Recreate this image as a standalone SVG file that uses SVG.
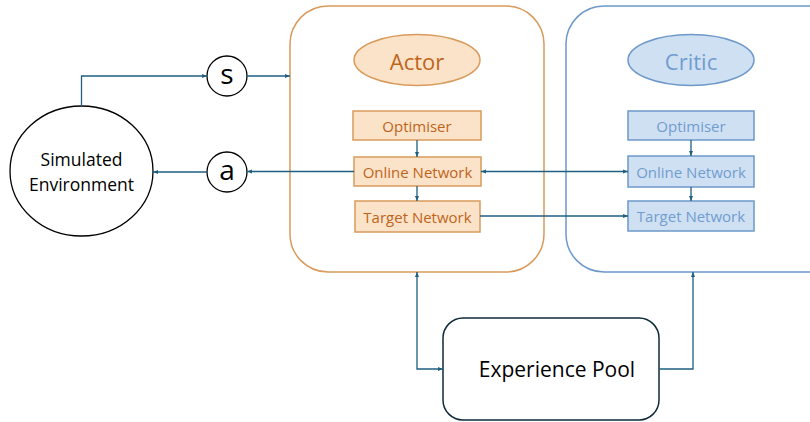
<svg xmlns="http://www.w3.org/2000/svg" width="810" height="422" viewBox="0 0 810 422">
<defs>
<marker id="arr" viewBox="0 0 10 10" refX="10" refY="5" markerWidth="5" markerHeight="5" orient="auto-start-reverse" markerUnits="userSpaceOnUse"><path d="M0,1 L10,5 L0,9 z" fill="#1F5F80"/></marker>
<style>
text{font-family:"Open Sans","Noto Sans",sans-serif;text-anchor:middle;dominant-baseline:central}
.a-box{fill:#FBE3C9;stroke:#D99A5B;stroke-width:1.5}
.a-txt{fill:#C0631A}
.c-box{fill:#CFE0F2;stroke:#6C99C9;stroke-width:1.5}
.c-txt{fill:#6F9DD0}
.k{fill:#000}
.line{fill:none;stroke:#1F5F80;stroke-width:1.3}
.sm{font-size:15px}
</style>
</defs>
<rect width="810" height="422" fill="#fff"/>
<g id="actor">
<rect x="290" y="6" width="254" height="266" rx="38" fill="none" stroke="#D99A5B" stroke-width="1.5"/>
<ellipse class="a-box" cx="417" cy="60" rx="63" ry="25.5"/>
<text class="a-txt" x="417" y="61" font-size="22">Actor</text>
</g>
<g id="actor-optimiser"><rect class="a-box" x="353" y="111" width="128" height="29"/><text class="a-txt sm" x="417" y="125.5">Optimiser</text></g>
<g id="actor-online"><rect class="a-box" x="354" y="157" width="127" height="29"/><text class="a-txt sm" x="417.5" y="171.5">Online Network</text></g>
<g id="actor-target"><rect class="a-box" x="355" y="201" width="125" height="31"/><text class="a-txt sm" x="417.5" y="216.5">Target Network</text></g>
<g id="critic">
<rect x="566" y="6" width="290" height="266" rx="38" fill="none" stroke="#6C99C9" stroke-width="1.5"/>
<ellipse class="c-box" cx="691" cy="60" rx="63" ry="25.5"/>
<text class="c-txt" x="691" y="61" font-size="22">Critic</text>
</g>
<g id="critic-optimiser"><rect class="c-box" x="628" y="111" width="126" height="29"/><text class="c-txt sm" x="691" y="125.5">Optimiser</text></g>
<g id="critic-online"><rect class="c-box" x="628" y="156" width="126" height="31"/><text class="c-txt sm" x="691" y="171.5">Online Network</text></g>
<g id="critic-target"><rect class="c-box" x="628" y="201" width="126" height="30"/><text class="c-txt sm" x="691" y="216">Target Network</text></g>
<g id="environment"><ellipse cx="81.5" cy="171" rx="71.5" ry="65" fill="#fff" stroke="#000" stroke-width="1.3"/><text class="k" x="81.5" y="159" font-size="17.5">Simulated</text><text class="k" x="81.5" y="184" font-size="17.5">Environment</text></g>
<g id="s"><circle cx="227" cy="76" r="20" fill="#fff" stroke="#000" stroke-width="1.3"/><text class="k" x="227" y="73" font-size="28">s</text></g>
<g id="a"><circle cx="227" cy="172" r="20" fill="#fff" stroke="#000" stroke-width="1.3"/><text class="k" x="227" y="169" font-size="28">a</text></g>
<g id="pool"><rect x="443" y="318" width="216" height="102" rx="20" fill="#fff" stroke="#0E2A3A" stroke-width="1.5"/><text class="k" x="557" y="369" font-size="21">Experience Pool</text></g>
<g id="connectors">
<path class="line" d="M81.5,106 V76 H207" marker-end="url(#arr)"/>
<path class="line" d="M247,76 H290" marker-end="url(#arr)"/>
<path class="line" d="M354,171.5 H247" marker-end="url(#arr)"/>
<path class="line" d="M207,172 H153" marker-end="url(#arr)"/>
<path class="line" d="M481,171.5 H628" marker-start="url(#arr)" marker-end="url(#arr)"/>
<path class="line" d="M480,216 H628" marker-end="url(#arr)"/>
<path class="line" d="M417,140 V157" marker-end="url(#arr)"/>
<path class="line" d="M417,186 V201" marker-end="url(#arr)"/>
<path class="line" d="M691,140 V156" marker-end="url(#arr)"/>
<path class="line" d="M691,187 V201" marker-end="url(#arr)"/>
<path class="line" d="M417,272 V369 H443" marker-start="url(#arr)" marker-end="url(#arr)"/>
<path class="line" d="M659,369 H693 V272" marker-end="url(#arr)"/>
</g>
</svg>
